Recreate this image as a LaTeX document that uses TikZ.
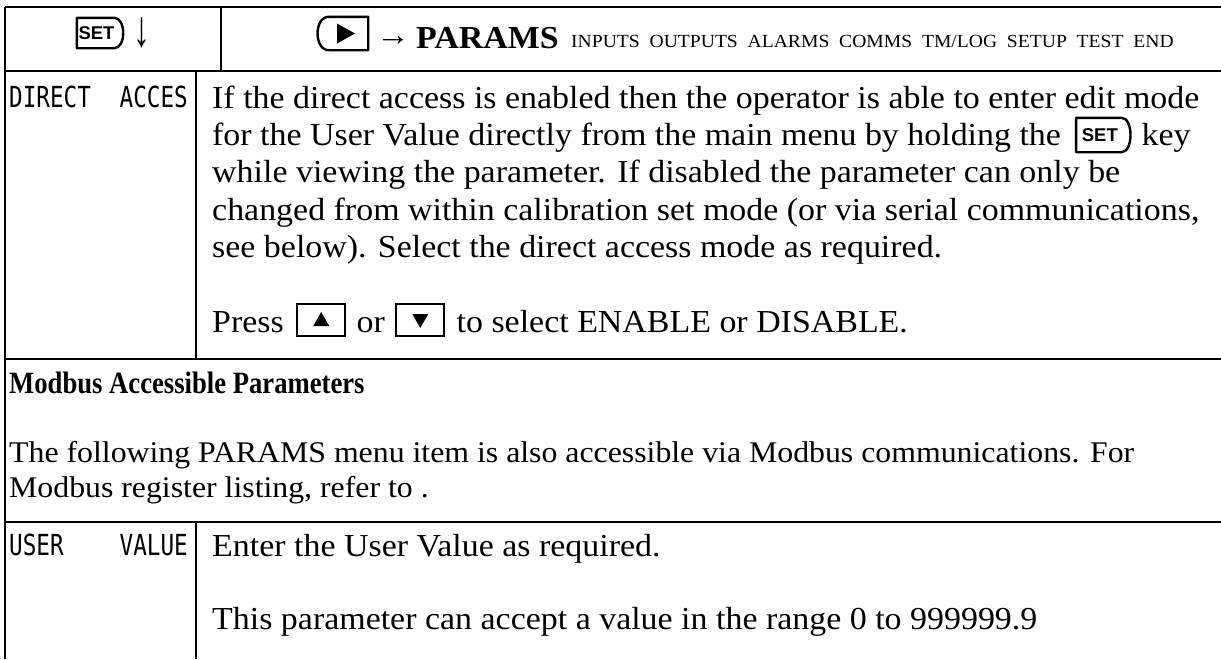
\documentclass[tikz,border=0pt]{standalone}
\usepackage{fontspec}
\setmainfont{Liberation Serif}[FakeStretch=1.06]
\newfontfamily\headfont{Liberation Serif}[FakeStretch=0.86]
\newfontfamily\keyfont{Liberation Sans}
\newfontfamily\segfont{DejaVu Sans Mono}[FakeStretch=0.78]
\usetikzlibrary{calc}
\newcommand\drawsetkey[1]{\draw[keyline] (#1.north west) -- ([xshift=-9pt]#1.north east) .. controls ([xshift=3pt]#1.north east) and ([xshift=3pt]#1.south east) .. ([xshift=-9pt]#1.south east) -- (#1.south west) -- cycle;}
\begin{document}
\begin{tikzpicture}[x=1pt,y=-1pt,
  rule/.style={line width=2.6pt},
  keyline/.style={line width=2.4pt,line join=round},
  txt/.style={anchor=base west,inner sep=0pt,font=\fontsize{32}{37}\selectfont},
  txtm/.style={anchor=base west,inner sep=0pt,font=\fontsize{30}{35}\selectfont},
  txtb/.style={txt,font=\fontsize{32}{37}\selectfont\bfseries},
  small/.style={anchor=base west,inner sep=0pt,font=\fontsize{18.5}{21}\selectfont},
  seg/.style={inner sep=0pt,font=\segfont\fontsize{29}{30}\selectfont},
  setkey/.style={inner sep=0pt,minimum width=#1,font=\keyfont\bfseries\fontsize{18.5}{18.5}\selectfont},
  arrkey/.style={inner sep=0pt,minimum width=48pt,minimum height=32pt,draw,line width=2.4pt}]
\useasboundingbox (0,0) rectangle (1221,659);
% table rules
\draw[rule] (5,7) -- (1221,7);
\draw[rule] (5,71) -- (1221,71);
\draw[rule] (5,359) -- (1221,359);
\draw[rule] (5,522) -- (1221,522);
\draw[rule] (5,7) -- (5,659);
\draw[rule] (221,7) -- (221,71);
\draw[rule] (196,71) -- (196,359);
\draw[rule] (196,522) -- (196,659);
% header left
\node[setkey=46pt,minimum height=30pt] (hset) at (100,33) {\hspace*{-7pt}SET};
\drawsetkey{hset}
\node[txt] (hdown) at (133,46) {\scalebox{1}[1.6]{↓}};
% header right
\node[inner sep=0pt,minimum width=50pt,minimum height=33pt] (play) at (343,33.5) {};
\draw[keyline] (play.north east) -- ([xshift=11pt]play.north west) .. controls ([xshift=-4pt]play.north west) and ([xshift=-4pt]play.south west) .. ([xshift=11pt]play.south west) -- (play.south east) -- cycle;
\fill ($(play.center)+(-6,-10)$) -- ($(play.center)+(12,0)$) -- ($(play.center)+(-6,10)$) -- cycle;
\node[txt] (harr) at (376,45) {→};
\node[txtb] (params) at (416,48) {PARAMS};
\node[small] (menu) at (571,47) {INPUTS\ \ OUTPUTS\ \ ALARMS\ \ COMMS\ \ TM/LOG\ \ SETUP\ \ TEST\ \ END};
% row 1
\node[seg,anchor=base west] (d1) at (9,107) {DIRECT};
\node[seg,anchor=base east] (d2) at (188,107) {ACCES};
\node[txt] (l1) at (212,108) {If the direct access is enabled then the operator is able to enter edit mode};
\node[txt] (l2a) at (212,145) {for the User Value directly from the main menu by holding the};
\node[setkey=54pt,minimum height=34pt,anchor=west] (kset) at ($(l2a.base east)+(15,-10)$) {\hspace*{-7pt}SET};
\drawsetkey{kset}
\node[txt] (l2b) at ($(kset.east |- l2a.base)+(11,0)$) {key};
\node[txt] (l3) at (212,182) {while viewing the parameter. If disabled the parameter can only be};
\node[txt] (l4) at (212,220) {changed from within calibration set mode (or via serial communications,};
\node[txt] (l5) at (212,257) {see below). Select the direct access mode as required.};
\node[txt] (p1) at (212,332) {Press};
\node[arrkey,anchor=west] (kup) at ($(p1.base east)+(12,-12)$) {};
\fill ($(kup.center)+(-8,6)$) -- ($(kup.center)+(0,-8)$) -- ($(kup.center)+(8,6)$) -- cycle;
\node[txt] (p2) at ($(kup.east |- p1.base)+(10,0)$) {or};
\node[arrkey,anchor=west] (kdn) at ($(p2.base east)+(10,-12)$) {};
\fill ($(kdn.center)+(-8,-6)$) -- ($(kdn.center)+(0,8)$) -- ($(kdn.center)+(8,-6)$) -- cycle;
\node[txt] (p3) at ($(kdn.east |- p1.base)+(11,0)$) {to select ENABLE or DISABLE.};
% modbus section
\node[anchor=base west,inner sep=0pt,font=\headfont\bfseries\fontsize{31}{34}\selectfont] (mh) at (9,393) {Modbus Accessible Parameters};
\node[txtm] (m1) at (9,462) {The following PARAMS menu item is also accessible via Modbus communications. For};
\node[txtm] (m2) at (9,497) {Modbus register listing, refer to .};
% last row
\node[seg,anchor=base west] (u1) at (9,555) {USER};
\node[seg,anchor=base east] (u2) at (188,555) {VALUE};
\node[txt] (e1) at (212,556) {Enter the User Value as required.};
\node[txt] (e2) at (212,629) {This parameter can accept a value in the range 0 to 999999.9};
\end{tikzpicture}
\end{document}
